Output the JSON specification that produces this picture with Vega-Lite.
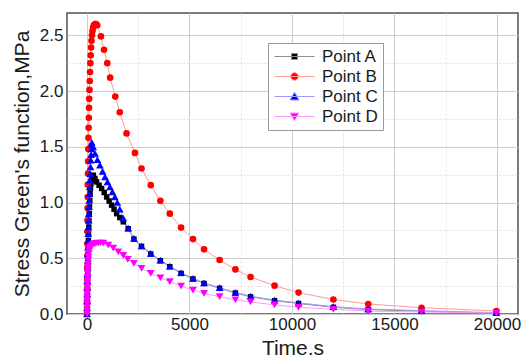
{
  "$schema": "https://vega.github.io/schema/vega-lite/v6.json",
  "width": 451,
  "height": 301,
  "autosize": "none",
  "padding": {"left": 67, "top": 13, "right": 9, "bottom": 46},
  "background": "white",
  "config": {
    "font": "Liberation Sans",
    "view": {"stroke": "#505050", "strokeWidth": 1.5}
  },
  "datasets": {
    "green": [
      {"series": "Point A", "time": 0, "stress": 0}, {"series": "Point A", "time": 5, "stress": 0.06}, {"series": "Point A", "time": 10, "stress": 0.12}, {"series": "Point A", "time": 15, "stress": 0.18}, {"series": "Point A", "time": 20, "stress": 0.24}, {"series": "Point A", "time": 26, "stress": 0.3}, {"series": "Point A", "time": 32, "stress": 0.36}, {"series": "Point A", "time": 38, "stress": 0.42}, {"series": "Point A", "time": 45, "stress": 0.48}, {"series": "Point A", "time": 52, "stress": 0.54}, {"series": "Point A", "time": 60, "stress": 0.6}, {"series": "Point A", "time": 68, "stress": 0.66}, {"series": "Point A", "time": 77, "stress": 0.72}, {"series": "Point A", "time": 87, "stress": 0.78}, {"series": "Point A", "time": 98, "stress": 0.84}, {"series": "Point A", "time": 110, "stress": 0.9}, {"series": "Point A", "time": 123, "stress": 0.96}, {"series": "Point A", "time": 137, "stress": 1.02}, {"series": "Point A", "time": 152, "stress": 1.08}, {"series": "Point A", "time": 170, "stress": 1.13}, {"series": "Point A", "time": 190, "stress": 1.17}, {"series": "Point A", "time": 215, "stress": 1.2}, {"series": "Point A", "time": 245, "stress": 1.225}, {"series": "Point A", "time": 275, "stress": 1.24}, {"series": "Point A", "time": 310, "stress": 1.245}, {"series": "Point A", "time": 390, "stress": 1.215}, {"series": "Point A", "time": 470, "stress": 1.185}, {"series": "Point A", "time": 590, "stress": 1.155}, {"series": "Point A", "time": 715, "stress": 1.126}, {"series": "Point A", "time": 840, "stress": 1.09}, {"series": "Point A", "time": 960, "stress": 1.05}, {"series": "Point A", "time": 1080, "stress": 1.013}, {"series": "Point A", "time": 1200, "stress": 0.977}, {"series": "Point A", "time": 1320, "stress": 0.94}, {"series": "Point A", "time": 1445, "stress": 0.9}, {"series": "Point A", "time": 1600, "stress": 0.865}, {"series": "Point A", "time": 1770, "stress": 0.827}, {"series": "Point A", "time": 2010, "stress": 0.765}, {"series": "Point A", "time": 2290, "stress": 0.672}, {"series": "Point A", "time": 2660, "stress": 0.606}, {"series": "Point A", "time": 3110, "stress": 0.538}, {"series": "Point A", "time": 3580, "stress": 0.478}, {"series": "Point A", "time": 4040, "stress": 0.424}, {"series": "Point A", "time": 4590, "stress": 0.364}, {"series": "Point A", "time": 5170, "stress": 0.314}, {"series": "Point A", "time": 5710, "stress": 0.274}, {"series": "Point A", "time": 6470, "stress": 0.23}, {"series": "Point A", "time": 7240, "stress": 0.188}, {"series": "Point A", "time": 7980, "stress": 0.154}, {"series": "Point A", "time": 9150, "stress": 0.119}, {"series": "Point A", "time": 10320, "stress": 0.094}, {"series": "Point A", "time": 12020, "stress": 0.06}, {"series": "Point A", "time": 13720, "stress": 0.039}, {"series": "Point A", "time": 16320, "stress": 0.025}, {"series": "Point A", "time": 19970, "stress": 0.008},

      {"series": "Point B", "time": 0, "stress": 0}, {"series": "Point B", "time": 3, "stress": 0.11}, {"series": "Point B", "time": 6, "stress": 0.22}, {"series": "Point B", "time": 9, "stress": 0.32}, {"series": "Point B", "time": 12, "stress": 0.42}, {"series": "Point B", "time": 15, "stress": 0.52}, {"series": "Point B", "time": 19, "stress": 0.63}, {"series": "Point B", "time": 23, "stress": 0.74}, {"series": "Point B", "time": 27, "stress": 0.84}, {"series": "Point B", "time": 32, "stress": 0.95}, {"series": "Point B", "time": 37, "stress": 1.05}, {"series": "Point B", "time": 43, "stress": 1.16}, {"series": "Point B", "time": 49, "stress": 1.26}, {"series": "Point B", "time": 56, "stress": 1.37}, {"series": "Point B", "time": 64, "stress": 1.48}, {"series": "Point B", "time": 72, "stress": 1.58}, {"series": "Point B", "time": 80, "stress": 1.67}, {"series": "Point B", "time": 90, "stress": 1.76}, {"series": "Point B", "time": 100, "stress": 1.85}, {"series": "Point B", "time": 110, "stress": 1.93}, {"series": "Point B", "time": 122, "stress": 2.01}, {"series": "Point B", "time": 135, "stress": 2.09}, {"series": "Point B", "time": 150, "stress": 2.17}, {"series": "Point B", "time": 165, "stress": 2.25}, {"series": "Point B", "time": 182, "stress": 2.32}, {"series": "Point B", "time": 200, "stress": 2.39}, {"series": "Point B", "time": 220, "stress": 2.45}, {"series": "Point B", "time": 245, "stress": 2.5}, {"series": "Point B", "time": 270, "stress": 2.54}, {"series": "Point B", "time": 300, "stress": 2.57}, {"series": "Point B", "time": 340, "stress": 2.59}, {"series": "Point B", "time": 390, "stress": 2.6}, {"series": "Point B", "time": 440, "stress": 2.6}, {"series": "Point B", "time": 500, "stress": 2.59}, {"series": "Point B", "time": 680, "stress": 2.49}, {"series": "Point B", "time": 830, "stress": 2.37}, {"series": "Point B", "time": 990, "stress": 2.25}, {"series": "Point B", "time": 1130, "stress": 2.12}, {"series": "Point B", "time": 1380, "stress": 1.95}, {"series": "Point B", "time": 1600, "stress": 1.81}, {"series": "Point B", "time": 1930, "stress": 1.62}, {"series": "Point B", "time": 2340, "stress": 1.445}, {"series": "Point B", "time": 2660, "stress": 1.305}, {"series": "Point B", "time": 3110, "stress": 1.156}, {"series": "Point B", "time": 3580, "stress": 1.015}, {"series": "Point B", "time": 4040, "stress": 0.9}, {"series": "Point B", "time": 4590, "stress": 0.775}, {"series": "Point B", "time": 5170, "stress": 0.672}, {"series": "Point B", "time": 5710, "stress": 0.58}, {"series": "Point B", "time": 6470, "stress": 0.484}, {"series": "Point B", "time": 7240, "stress": 0.4}, {"series": "Point B", "time": 7980, "stress": 0.332}, {"series": "Point B", "time": 9150, "stress": 0.254}, {"series": "Point B", "time": 10320, "stress": 0.192}, {"series": "Point B", "time": 12020, "stress": 0.13}, {"series": "Point B", "time": 13720, "stress": 0.09}, {"series": "Point B", "time": 16320, "stress": 0.056}, {"series": "Point B", "time": 19970, "stress": 0.027},

      {"series": "Point C", "time": 0, "stress": 0}, {"series": "Point C", "time": 4, "stress": 0.06}, {"series": "Point C", "time": 8, "stress": 0.12}, {"series": "Point C", "time": 12, "stress": 0.18}, {"series": "Point C", "time": 16, "stress": 0.24}, {"series": "Point C", "time": 20, "stress": 0.3}, {"series": "Point C", "time": 25, "stress": 0.36}, {"series": "Point C", "time": 30, "stress": 0.42}, {"series": "Point C", "time": 35, "stress": 0.48}, {"series": "Point C", "time": 41, "stress": 0.54}, {"series": "Point C", "time": 47, "stress": 0.6}, {"series": "Point C", "time": 54, "stress": 0.66}, {"series": "Point C", "time": 61, "stress": 0.72}, {"series": "Point C", "time": 69, "stress": 0.78}, {"series": "Point C", "time": 77, "stress": 0.84}, {"series": "Point C", "time": 86, "stress": 0.9}, {"series": "Point C", "time": 96, "stress": 0.96}, {"series": "Point C", "time": 106, "stress": 1.02}, {"series": "Point C", "time": 117, "stress": 1.08}, {"series": "Point C", "time": 129, "stress": 1.14}, {"series": "Point C", "time": 142, "stress": 1.2}, {"series": "Point C", "time": 156, "stress": 1.26}, {"series": "Point C", "time": 171, "stress": 1.32}, {"series": "Point C", "time": 187, "stress": 1.38}, {"series": "Point C", "time": 200, "stress": 1.43}, {"series": "Point C", "time": 212, "stress": 1.48}, {"series": "Point C", "time": 222, "stress": 1.52}, {"series": "Point C", "time": 232, "stress": 1.54}, {"series": "Point C", "time": 300, "stress": 1.5}, {"series": "Point C", "time": 390, "stress": 1.44}, {"series": "Point C", "time": 510, "stress": 1.385}, {"series": "Point C", "time": 630, "stress": 1.335}, {"series": "Point C", "time": 760, "stress": 1.28}, {"series": "Point C", "time": 880, "stress": 1.23}, {"series": "Point C", "time": 1000, "stress": 1.185}, {"series": "Point C", "time": 1120, "stress": 1.14}, {"series": "Point C", "time": 1240, "stress": 1.095}, {"series": "Point C", "time": 1360, "stress": 1.05}, {"series": "Point C", "time": 1480, "stress": 1.0}, {"series": "Point C", "time": 1600, "stress": 0.94}, {"series": "Point C", "time": 1770, "stress": 0.86}, {"series": "Point C", "time": 2010, "stress": 0.77}, {"series": "Point C", "time": 2290, "stress": 0.678}, {"series": "Point C", "time": 2660, "stress": 0.612}, {"series": "Point C", "time": 3110, "stress": 0.544}, {"series": "Point C", "time": 3580, "stress": 0.484}, {"series": "Point C", "time": 4040, "stress": 0.43}, {"series": "Point C", "time": 4590, "stress": 0.37}, {"series": "Point C", "time": 5170, "stress": 0.32}, {"series": "Point C", "time": 5710, "stress": 0.28}, {"series": "Point C", "time": 6470, "stress": 0.236}, {"series": "Point C", "time": 7240, "stress": 0.194}, {"series": "Point C", "time": 7980, "stress": 0.16}, {"series": "Point C", "time": 9150, "stress": 0.125}, {"series": "Point C", "time": 10320, "stress": 0.1}, {"series": "Point C", "time": 12020, "stress": 0.066}, {"series": "Point C", "time": 13720, "stress": 0.045}, {"series": "Point C", "time": 16320, "stress": 0.03}, {"series": "Point C", "time": 19970, "stress": 0.012},

      {"series": "Point D", "time": 0, "stress": 0}, {"series": "Point D", "time": 2, "stress": 0.03}, {"series": "Point D", "time": 4, "stress": 0.06}, {"series": "Point D", "time": 6, "stress": 0.09}, {"series": "Point D", "time": 8, "stress": 0.12}, {"series": "Point D", "time": 10, "stress": 0.15}, {"series": "Point D", "time": 13, "stress": 0.18}, {"series": "Point D", "time": 16, "stress": 0.21}, {"series": "Point D", "time": 19, "stress": 0.24}, {"series": "Point D", "time": 22, "stress": 0.27}, {"series": "Point D", "time": 26, "stress": 0.3}, {"series": "Point D", "time": 30, "stress": 0.33}, {"series": "Point D", "time": 35, "stress": 0.36}, {"series": "Point D", "time": 40, "stress": 0.39}, {"series": "Point D", "time": 46, "stress": 0.42}, {"series": "Point D", "time": 53, "stress": 0.45}, {"series": "Point D", "time": 60, "stress": 0.48}, {"series": "Point D", "time": 70, "stress": 0.51}, {"series": "Point D", "time": 85, "stress": 0.54}, {"series": "Point D", "time": 105, "stress": 0.565}, {"series": "Point D", "time": 130, "stress": 0.585}, {"series": "Point D", "time": 165, "stress": 0.6}, {"series": "Point D", "time": 210, "stress": 0.612}, {"series": "Point D", "time": 270, "stress": 0.622}, {"series": "Point D", "time": 340, "stress": 0.629}, {"series": "Point D", "time": 430, "stress": 0.633}, {"series": "Point D", "time": 540, "stress": 0.636}, {"series": "Point D", "time": 660, "stress": 0.637}, {"series": "Point D", "time": 800, "stress": 0.635}, {"series": "Point D", "time": 1040, "stress": 0.618}, {"series": "Point D", "time": 1280, "stress": 0.59}, {"series": "Point D", "time": 1525, "stress": 0.558}, {"series": "Point D", "time": 1770, "stress": 0.525}, {"series": "Point D", "time": 1990, "stress": 0.49}, {"series": "Point D", "time": 2290, "stress": 0.455}, {"series": "Point D", "time": 2660, "stress": 0.41}, {"series": "Point D", "time": 3110, "stress": 0.365}, {"series": "Point D", "time": 3580, "stress": 0.325}, {"series": "Point D", "time": 4040, "stress": 0.29}, {"series": "Point D", "time": 4590, "stress": 0.25}, {"series": "Point D", "time": 5170, "stress": 0.215}, {"series": "Point D", "time": 5710, "stress": 0.185}, {"series": "Point D", "time": 6470, "stress": 0.155}, {"series": "Point D", "time": 7240, "stress": 0.128}, {"series": "Point D", "time": 7980, "stress": 0.108}, {"series": "Point D", "time": 9150, "stress": 0.082}, {"series": "Point D", "time": 10320, "stress": 0.06}, {"series": "Point D", "time": 12020, "stress": 0.042}, {"series": "Point D", "time": 13720, "stress": 0.026}, {"series": "Point D", "time": 16320, "stress": 0.018}, {"series": "Point D", "time": 19970, "stress": 0.008}
    ]
  },
  "data": {"name": "green"},
  "encoding": {
    "x": {
      "field": "time",
      "type": "quantitative",
      "scale": {"domain": [-975, 21025], "nice": false, "zero": false},
      "axis": {
        "title": "Time.s",
        "values": [0, 2500, 5000, 7500, 10000, 12500, 15000, 17500, 20000],
        "labelExpr": "datum.value % 5000 === 0 ? format(datum.value, 'd') : ''",
        "labelOverlap": false,
        "labelFlush": false,
        "labelFontSize": 17,
        "labelColor": "#1a1a1a",
        "labelPadding": 2,
        "ticks": false,
        "domain": false,
        "gridColor": {"condition": {"test": "datum.value % 5000 !== 0", "value": "#dedede"}, "value": "#cccccc"},
        "gridDash": {"condition": {"test": "datum.value % 5000 !== 0", "value": [2, 2]}, "value": []},
        "titleFontSize": 21,
        "titleFontWeight": "normal",
        "titleColor": "#1a1a1a",
        "titlePadding": 5
      }
    },
    "y": {
      "field": "stress",
      "type": "quantitative",
      "scale": {"domain": [0, 2.7], "nice": false},
      "axis": {
        "title": "Stress Green's function,MPa",
        "values": [0, 0.25, 0.5, 0.75, 1, 1.25, 1.5, 1.75, 2, 2.25, 2.5],
        "labelExpr": "abs(datum.value * 2 - round(datum.value * 2)) < 0.001 ? format(datum.value, '.1f') : ''",
        "labelOverlap": false,
        "labelFlush": false,
        "labelFontSize": 17,
        "labelColor": "#1a1a1a",
        "labelPadding": 4,
        "ticks": false,
        "domain": false,
        "gridColor": {"condition": {"test": "abs(datum.value * 2 - round(datum.value * 2)) > 0.001", "value": "#dedede"}, "value": "#cccccc"},
        "gridDash": {"condition": {"test": "abs(datum.value * 2 - round(datum.value * 2)) > 0.001", "value": [2, 2]}, "value": []},
        "titleFontSize": 21,
        "titleFontWeight": "normal",
        "titleColor": "#1a1a1a",
        "titlePadding": 7
      }
    }
  },
  "layer": [
    {
      "description": "Key only: no rows reach this layer; its scales drive the legend, each entry a line with its marker.",
      "transform": [{"filter": "false"}],
      "mark": {"type": "point", "filled": true, "opacity": 1, "strokeWidth": 1},
      "encoding": {
        "fill": {
          "field": "series",
          "type": "nominal",
          "scale": {"domain": ["Point A", "Point B", "Point C", "Point D"], "range": ["#000000", "#ff0000", "#0000ff", "#ff00ff"]},
          "legend": {
            "title": null, "orient": "none", "legendX": 201, "legendY": 30, "symbolSize": 100, "symbolStrokeWidth": 1,
            "labelFontSize": 17, "labelColor": "#1a1a1a", "labelOffset": 32, "padding": 5, "rowPadding": 2,
            "fillColor": "white", "strokeColor": "#9a9a9a", "cornerRadius": 0
          }
        },
        "stroke": {
          "field": "series",
          "type": "nominal",
          "scale": {"domain": ["Point A", "Point B", "Point C", "Point D"], "range": ["#8c8c8c", "#ff9a9a", "#9a9aff", "#ff9aff"]}
        },
        "shape": {
          "field": "series",
          "type": "nominal",
          "scale": {
            "domain": ["Point A", "Point B", "Point C", "Point D"],
            "range": [
              "M-1.4,0H6.6M2,-0.6H3.2V0.6H2Z",
              "M-1.4,0H6.6M1.84,0A0.76,0.76,0,1,0,3.36,0A0.76,0.76,0,1,0,1.84,0Z",
              "M-1.4,0H6.6M2.6,-0.85L3.5,0.7L1.7,0.7Z",
              "M-1.4,0H6.6M2.6,0.85L3.5,-0.7L1.7,-0.7Z"
            ]
          }
        }
      }
    },
    {
      "mark": {"type": "line", "strokeWidth": 1},
      "encoding": {
        "stroke": {"field": "series", "type": "nominal"},
        "order": {"field": "time", "type": "quantitative"}
      }
    },
    {
      "transform": [{"filter": "datum.series === 'Point A'"}],
      "mark": {"type": "point", "shape": "square", "filled": true, "color": "#000000", "size": 30, "opacity": 1, "strokeWidth": 0}
    },
    {
      "transform": [{"filter": "datum.series === 'Point B'"}],
      "mark": {"type": "point", "shape": "circle", "filled": true, "color": "#ff0000", "size": 44, "opacity": 1, "strokeWidth": 0}
    },
    {
      "transform": [{"filter": "datum.series === 'Point C'"}],
      "mark": {"type": "point", "shape": "triangle-up", "filled": true, "color": "#0000ff", "size": 60, "opacity": 1, "strokeWidth": 0}
    },
    {
      "transform": [{"filter": "datum.series === 'Point D'"}],
      "mark": {"type": "point", "shape": "triangle-down", "filled": true, "color": "#ff00ff", "size": 60, "opacity": 1, "strokeWidth": 0}
    }
  ]
}
